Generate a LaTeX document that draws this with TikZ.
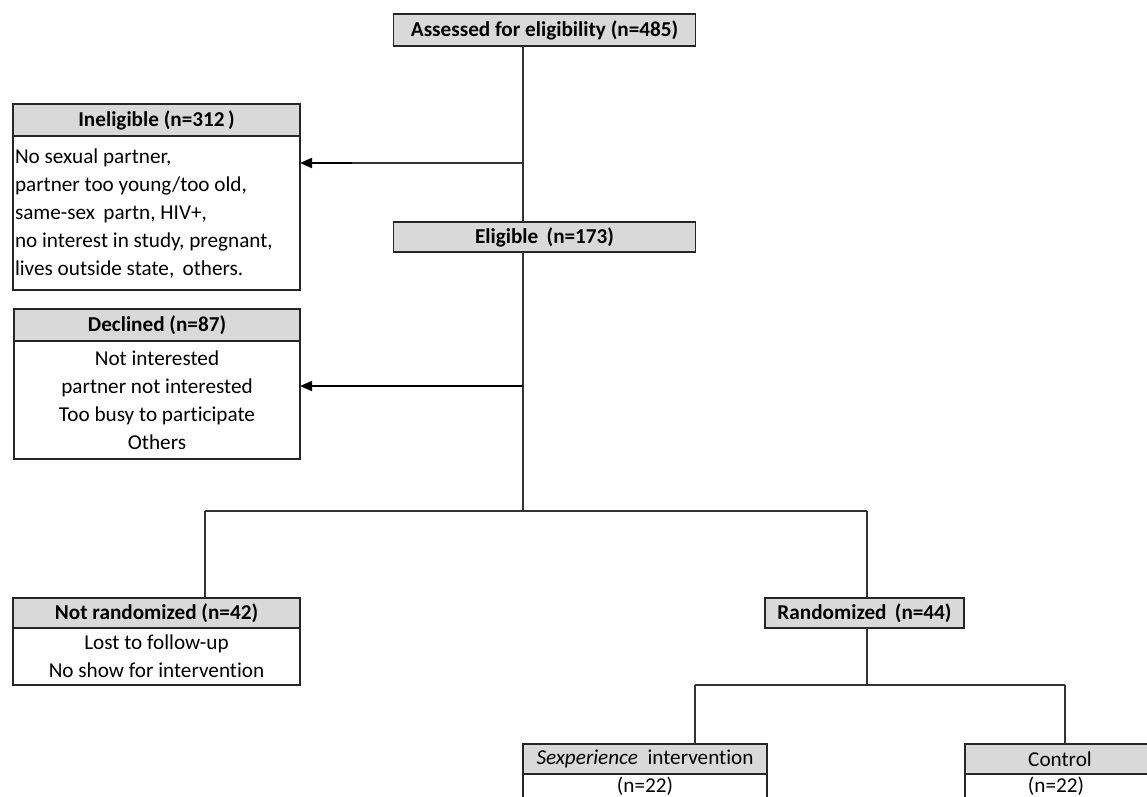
\documentclass[tikz,border=0pt]{standalone}
\usepackage{fontspec}
\setmainfont{Carlito}[Ligatures=NoCommon]
\usetikzlibrary{arrows.meta,calc}
\begin{document}
\begin{tikzpicture}[x=1pt,y=-1pt,
  every node/.style={font=\fontsize{21.2}{28}\selectfont, text=black, inner sep=0pt, outer sep=0pt},
  hdr/.style={draw=black!85, line width=1.4, fill=black!15, font=\fontsize{21.2}{28}\selectfont\bfseries},
  hdrr/.style={draw=black!85, line width=1.4, fill=black!15},
  bodybox/.style={draw=black!85, line width=1.1, fill=white},
  conn/.style={draw=black!80, line width=1.3},
  arr/.style={draw=black, line width=2, -{Triangle[length=12pt,width=10pt]}}
]
\useasboundingbox (0,0) rectangle (1147,796);
\clip (0,0) rectangle (1147,796);
% coordinates on the trunk
\coordinate (tA) at (523,163);
\coordinate (tB) at (523,386);
\coordinate (br) at (523,511);
\coordinate (brL) at (205,511);
\coordinate (brR) at (867,511);
\coordinate (rd) at (867,685);
\coordinate (rdL) at (695,685);
\coordinate (rdR) at (1065,685);

% nodes
\node[hdr, minimum width=302, minimum height=32] (assess) at (544.5,30) {Assessed for eligibility (n=485)};
\node[hdr, minimum width=302, minimum height=30] (elig) at (544.5,237) {Eligible\, (n=173)};

\node[hdr, minimum width=287, minimum height=32] (inel) at (156.5,120) {Ineligible (n=312\,)};
\node[bodybox, minimum width=287, minimum height=154, anchor=north, text width=283, align=flush left] (inelb) at (inel.south) {No sexual partner,\\partner too young/too old,\\same-sex\, partn, HIV+,\\no interest in study, pregnant,\\lives outside state,\, others.};

\node[hdr, minimum width=286, minimum height=32] (decl) at (157,325) {Declined (n=87)};
\node[bodybox, minimum width=286, minimum height=118, anchor=north, align=center] (declb) at (decl.south) {Not interested\\partner not interested\\Too busy to participate\\Others};

\node[hdr, minimum width=287, minimum height=30] (notr) at (156.5,613) {Not randomized (n=42)};
\node[bodybox, minimum width=287, minimum height=57, anchor=north, align=center] (notrb) at (notr.south) {Lost to follow-up\\No show for intervention};

\node[hdr, minimum width=199, minimum height=30] (rand) at (864.5,613) {Randomized\, (n=44)};

\node[hdrr, minimum width=244, minimum height=30] (sexp) at (645,759) {\textit{Sexperience}\ \ intervention};
\node[bodybox, minimum width=244, minimum height=40, anchor=north] (sexpb) at (sexp.south) {};
\node[anchor=center] (sexpn) at (645,786) {(n=22)};

\node[hdrr, minimum width=190, minimum height=30] (ctrl) at (1060,759) {Control};
\node[bodybox, minimum width=190, minimum height=40, anchor=north] (ctrlb) at (ctrl.south) {};
\node[anchor=center] (ctrln) at (1056,786) {(n=22)};

% connectors
\draw[conn] ([xshift=-21.5]assess.south) -- ([xshift=-21.5]elig.north);
\draw[conn] ([xshift=-21.5]elig.south) -- (br);
\draw[conn] (tA) -- (352,163);
\draw[arr] (352,163) -- (tA -| inelb.east);
\draw[arr] (tB) -- (tB -| declb.east);
\draw[conn] (brL) -- (brR);
\draw[conn] (brL) -- (brL |- notr.north);
\draw[conn] (brR) -- (brR |- rand.north);
\draw[conn] (rand.south -| rd) -- (rd);
\draw[conn] (rdL) -- (rdR);
\draw[conn] (rdL) -- (rdL |- sexp.north);
\draw[conn] (rdR) -- (rdR |- ctrl.north);
\end{tikzpicture}
\end{document}
